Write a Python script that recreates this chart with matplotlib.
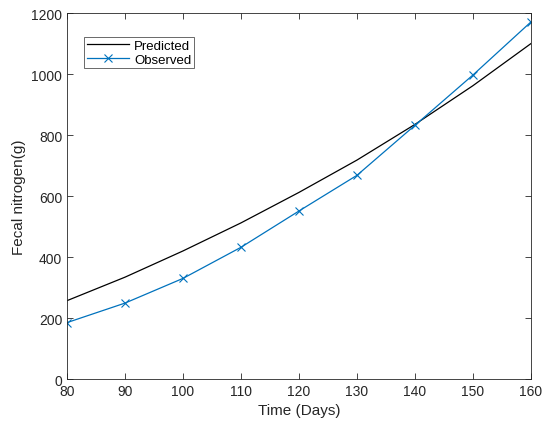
import matplotlib
matplotlib.use('Agg')
import matplotlib.pyplot as plt

plt.rcParams['font.family'] = ['Liberation Sans', 'DejaVu Sans']

# data
days = [80, 90, 100, 110, 120, 130, 140, 150, 160]
predicted = [257, 334, 420, 512, 612, 718, 835, 962, 1100]
observed = [185, 249, 330, 432, 551, 668, 832, 997, 1171]

fig = plt.figure(figsize=(5.42, 4.27), dpi=100)
ax = fig.add_axes([0.1236, 0.110, 0.856, 0.857])

ax.plot(days, predicted, color='black', linewidth=0.9, label='Predicted')
ax.plot(days, observed, color='#0072BD', linewidth=0.9, marker='x',
        markersize=5.5, markeredgewidth=0.8, label='Observed')

ax.set_xlim(80, 160)
ax.set_ylim(0, 1200)
ax.set_xticks(range(80, 161, 10))
ax.set_yticks(range(0, 1201, 200))
ax.tick_params(direction='in', top=True, right=True, labelsize=10,
               colors='#262626', length=4, width=0.6)
for s in ax.spines.values():
    s.set_linewidth(0.6)
    s.set_color('#262626')

ax.set_xlabel('Time (Days)', fontsize=11, color='#262626')
ax.set_ylabel('Fecal nitrogen(g)', fontsize=11, color='#262626')

leg = ax.legend(loc='upper left', bbox_to_anchor=(0.037, 0.934), fontsize=9.5,
                frameon=True, fancybox=False, edgecolor='#262626',
                handlelength=3.2, handletextpad=0.4, borderpad=0.2,
                labelspacing=0.1, borderaxespad=0)
leg.get_frame().set_linewidth(0.6)

fig.savefig('out.png', dpi=100)
